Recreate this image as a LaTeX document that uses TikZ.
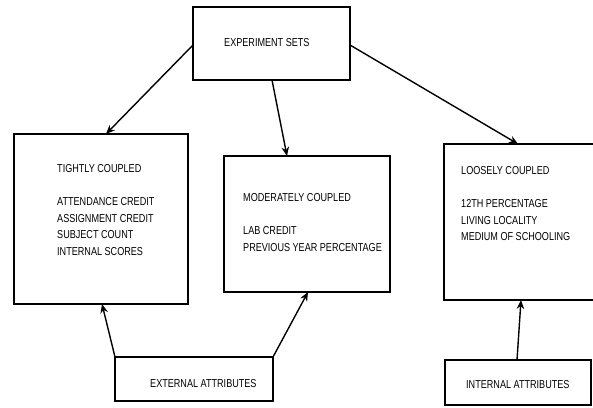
\documentclass[tikz,border=0pt]{standalone}
\usepackage{fontspec}
\setmainfont[FakeStretch=0.79]{Liberation Sans}
\usetikzlibrary{arrows.meta}
\tikzset{
  boxline/.style={draw=black, line width=1.7pt},
  conn/.style={draw=black, line width=1.4pt, -{Stealth[length=9pt,width=7.5pt]}},
  lbl/.style={anchor=north west, inner sep=0pt, align=left, font=\fontsize{11.5}{16.7}\selectfont},
}
\begin{document}
\begin{tikzpicture}[x=1pt,y=-1pt]
\clip (0,0) rectangle (593,407);
\fill[white] (0,0) rectangle (593,407);
% boxes
\path[boxline] (193,7) rectangle (350,80);
\path[boxline] (14,134) rectangle (188,304);
\path[boxline] (224,156) rectangle (390,292);
\path[boxline] (444,144) rectangle (600,300);
\path[boxline] (115,357) rectangle (273,401);
\path[boxline] (445,360) rectangle (591,405);
% anchor coordinates
\coordinate (expL) at (193,45);
\coordinate (expB) at (272,80);
\coordinate (expR) at (350,45);
\coordinate (tightT) at (106,134);
\coordinate (tightB) at (102,304);
\coordinate (modT) at (287,156);
\coordinate (modB) at (308,292);
\coordinate (looseT) at (518,144);
\coordinate (looseB) at (521,300);
\coordinate (extL) at (115,357);
\coordinate (extR) at (273,357);
\coordinate (intT) at (517,360);
% texts
\node[lbl] (exptxt) at (224,37.9) {EXPERIMENT SETS};
\node[lbl] (tighttxt) at (57,163.9) {TIGHTLY COUPLED\\ \\ATTENDANCE CREDIT\\ASSIGNMENT CREDIT\\SUBJECT COUNT\\INTERNAL SCORES};
\node[lbl] (modtxt) at (243,192.9) {MODERATELY COUPLED\\ \\LAB CREDIT\\PREVIOUS YEAR PERCENTAGE};
\node[lbl] (loosetxt) at (461,165.9) {LOOSELY COUPLED\\ \\12TH PERCENTAGE\\LIVING LOCALITY\\MEDIUM OF SCHOOLING};
\node[lbl] (exttxt) at (150,378.9) {EXTERNAL ATTRIBUTES};
\node[lbl] (inttxt) at (466,379.9) {INTERNAL ATTRIBUTES};
% connectors
\draw[conn] (expL) -- (tightT);
\draw[conn] (expB) -- (modT);
\draw[conn] (expR) -- (looseT);
\draw[conn] (extL) -- (tightB);
\draw[conn] (extR) -- (modB);
\draw[conn] (intT) -- (looseB);
\end{tikzpicture}
\end{document}
